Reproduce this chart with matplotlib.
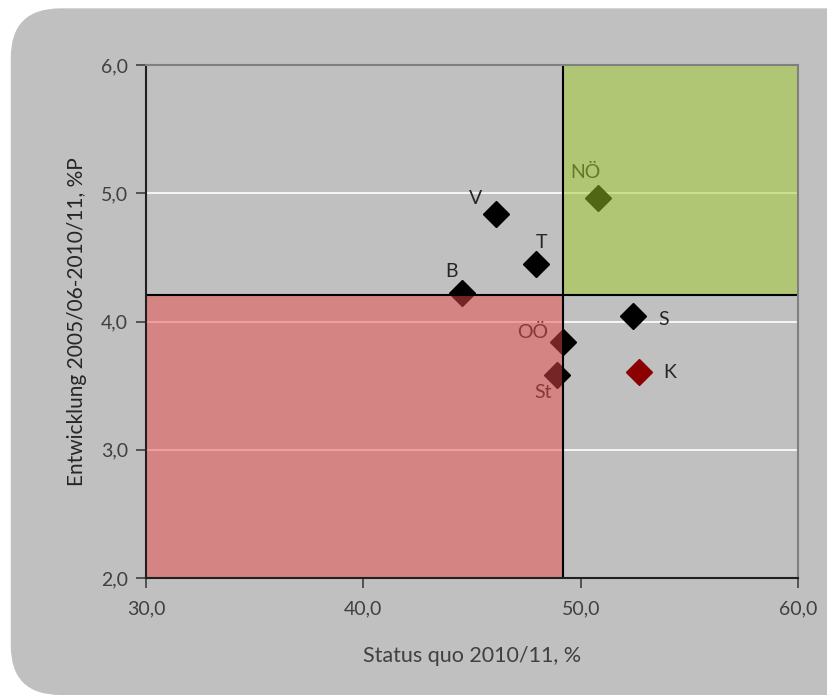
import matplotlib
matplotlib.use('Agg')
import matplotlib.pyplot as plt
from matplotlib.patches import FancyBboxPatch, Rectangle

# Daten (Bundeslaender)
labels = ['V', 'T', 'B', 'NÖ', 'S', 'OÖ', 'St', 'K']
status_quo = [46.1, 47.95, 44.55, 50.8, 52.4, 49.2, 48.9, 52.7]
entwicklung = [4.84, 4.45, 4.22, 4.96, 4.04, 3.84, 3.58, 3.61]
marker_farben = ['black', 'black', 'black', 'black', 'black', 'black', 'black', '#8b0000']
label_offsets = [(-15, 11), (4, 15), (-8, 16), (-9, 19), (22, -2), (-22, 7), (-10, -12), (22, -1)]

# Schwellenwerte (Durchschnitt)
x_schwelle = 49.2
y_schwelle = 4.21

xlim = (30, 60)
ylim = (2, 6)
xticks = [30, 40, 50, 60]
yticks = [2, 3, 4, 5, 6]

plt.rcParams['font.family'] = ['Lato', 'DejaVu Sans']
text_farbe = '#404040'

fig = plt.figure(figsize=(8.27, 6.95), dpi=100)
fig.patch.set_facecolor('white')

# Grauer Hintergrund mit abgerundeten Ecken
panel = FancyBboxPatch((0.013, 0.0), 1.05, 0.988, boxstyle='round,pad=0,rounding_size=0.06',
                       transform=fig.transFigure, facecolor='#c0c0c0', edgecolor='none',
                       mutation_aspect=827/695, zorder=-10)
fig.add_artist(panel)

ax = fig.add_axes([0.1765, 0.1683, 0.7885, 0.7382])
ax.set_facecolor('#c0c0c0')
ax.set_xlim(*xlim)
ax.set_ylim(*ylim)

# Gitterlinien
for y in yticks[1:-1]:
    ax.axhline(y, color='white', lw=1.2, zorder=1)

# Punkte und Beschriftungen
for lab, x, y, c, off in zip(labels, status_quo, entwicklung, marker_farben, label_offsets):
    ax.plot(x, y, marker='D', color=c, markersize=13, ls='none', zorder=3)
    ax.annotate(lab, (x, y), xytext=off, textcoords='offset points', ha='center', va='center',
                fontsize=14, color='#262626', zorder=3)

# Quadranten (halbtransparent darueber)
ax.add_patch(Rectangle((xlim[0], ylim[0]), x_schwelle - xlim[0], y_schwelle - ylim[0],
                       facecolor=(0.92, 0.29, 0.29), alpha=0.5, edgecolor='none', zorder=4))
ax.add_patch(Rectangle((x_schwelle, y_schwelle), xlim[1] - x_schwelle, ylim[1] - y_schwelle,
                       facecolor=(0.63, 0.80, 0.17), alpha=0.5, edgecolor='none', zorder=4))

ax.axvline(x_schwelle, color='black', lw=1.5, zorder=5)
ax.axhline(y_schwelle, color='black', lw=1.5, zorder=5)

ax.set_xticks(xticks)
ax.set_yticks(yticks)
ax.set_xticklabels([f'{v:.1f}'.replace('.', ',') for v in xticks])
ax.set_yticklabels([f'{v:.1f}'.replace('.', ',') for v in yticks])
ax.tick_params(direction='out', length=7, width=1.2, colors='#404040', labelsize=14, labelcolor=text_farbe)
ax.tick_params(axis='x', pad=9)
ax.tick_params(axis='y', pad=6)

for s in ['left', 'bottom']:
    ax.spines[s].set_color('#202020')
    ax.spines[s].set_linewidth(1.5)
for s in ['top', 'right']:
    ax.spines[s].set_color('#808080')
    ax.spines[s].set_linewidth(1.5)
for s in ax.spines.values():
    s.set_zorder(6)

ax.set_xlabel('Status quo 2010/11, %', fontsize=15.5, color=text_farbe, labelpad=21)
ax.set_ylabel('Entwicklung 2005/06-2010/11, %P', fontsize=15, color='#262626', labelpad=10)

plt.savefig('out.png', dpi=100)
